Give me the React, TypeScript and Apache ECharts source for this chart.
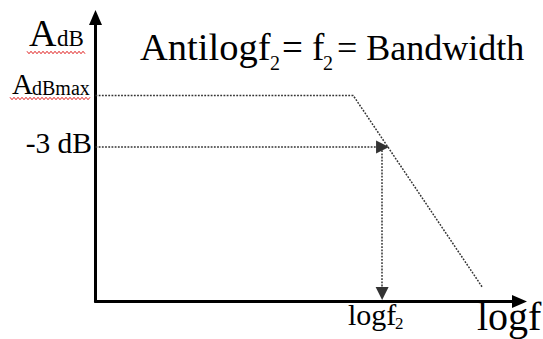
import { useEffect, useRef } from "react";
import * as echarts from "echarts";

// Frequency response sketch (arbitrary units, 0..100 on both axes)
const responseX = [0, 60.8, 91.2];
const responseY = [72.5, 72.5, 5.1];
const cutoffY = [54.4];
const cutoffArrowX = [67.7];
const f2X = [67.6];
const f2ArrowY = [2.8];
const axisRange = [0, 100];

const FONT = "Liberation Serif";

function wave(x0: number, x1: number, y: number): number[][] {
  const pts: number[][] = [];
  let up = true;
  for (let x = x0; x <= x1; x += 2) {
    pts.push([x, up ? y - 1.2 : y + 1.2]);
    up = !up;
  }
  return pts;
}

export default function App() {
  const ref = useRef<HTMLDivElement>(null);
  useEffect(() => {
    const chart = echarts.init(ref.current!, null, { renderer: "svg" });
    const dotted = { color: "#333", width: 1.5, type: [1.8, 1.4] as number[] };
    const axisLine = {
      show: true,
      symbol: ["none", "triangle"],
      symbolSize: [13, 15],
      lineStyle: { color: "#000", width: 3 },
    };
    const t = (text: string, x: number, y: number, fontSize: number, extra: any = {}) => ({
      type: "text",
      style: { text, x, y, fontSize, fontFamily: FONT, fill: "#000", verticalAlign: "middle", ...extra },
    });
    chart.setOption({
      animation: false,
      backgroundColor: "#fff",
      textStyle: { fontFamily: FONT },
      grid: { left: 95.5, right: 23.5, top: 17.5, bottom: 37.5 },
      xAxis: {
        type: "value",
        min: axisRange[0],
        max: axisRange[1],
        axisLine,
        axisTick: { show: false },
        axisLabel: { show: false },
        splitLine: { show: false },
      },
      yAxis: {
        type: "value",
        min: axisRange[0],
        max: axisRange[1],
        axisLine,
        axisTick: { show: false },
        axisLabel: { show: false },
        splitLine: { show: false },
      },
      series: [
        {
          type: "line",
          data: responseX.map((x, i) => [x, responseY[i]]),
          symbol: "none",
          silent: true,
          lineStyle: dotted,
          markLine: {
            silent: true,
            animation: false,
            symbol: ["none", "triangle"],
            symbolSize: [13, 13],
            label: { show: false },
            lineStyle: dotted,
            emphasis: { disabled: true },
            data: [
              [{ coord: [0, cutoffY[0]] }, { coord: [cutoffArrowX[0], cutoffY[0]] }],
              [{ coord: [f2X[0], cutoffY[0]] }, { coord: [f2X[0], f2ArrowY[0]] }],
            ],
          },
        },
      ],
      graphic: [
        t("A", 29, 33.2, 38),
        t("dB", 57, 38.2, 23),
        { type: "polyline", shape: { points: wave(27, 86, 52.5) }, style: { stroke: "#e02020", lineWidth: 1, fill: "none" } },
        t("A", 12, 84.2, 29),
        t("dBmax", 32, 87.8, 20),
        { type: "polyline", shape: { points: wave(10, 90, 98.5) }, style: { stroke: "#e02020", lineWidth: 1, fill: "none" } },
        t("-3 dB", 92, 143, 29.5, { align: "right" }),
        t("Antilogf", 140, 47, 38.5),
        t("2", 270, 63, 20),
        t("= f", 282, 47.5, 37),
        t("2", 323, 63, 20),
        t("= Bandwidth", 337, 47.8, 36),
        t("logf", 348, 314.9, 30),
        t("2", 395, 323.3, 17),
        t("logf", 477, 316.5, 40),
      ],
    });
    return () => chart.dispose();
  }, []);
  return <div ref={ref} style={{ position: "fixed", left: 0, top: 0, width: 543, height: 339 }} />;
}
